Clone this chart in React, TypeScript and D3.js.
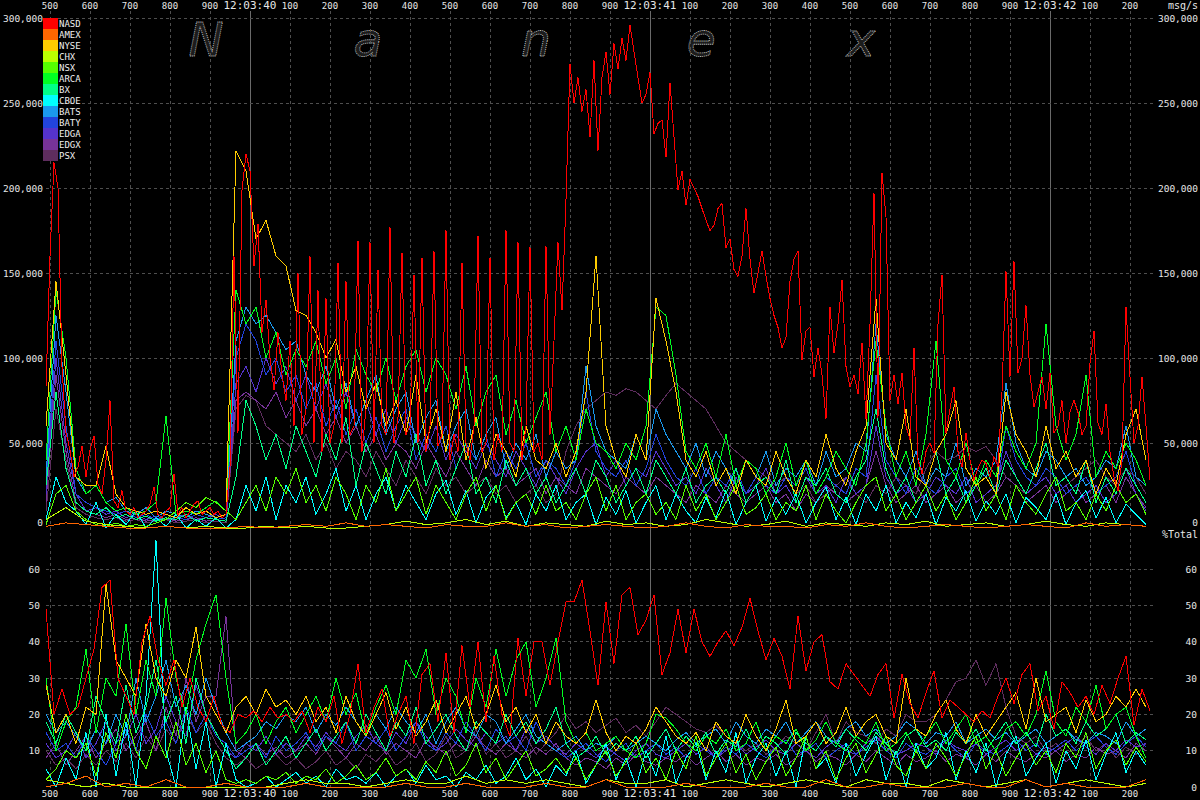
import React, { useEffect, useRef } from 'react';
import * as d3 from 'd3';

// exchanges, in legend order
const exchanges = ['NASD', 'AMEX', 'NYSE', 'CHX', 'NSX', 'ARCA', 'BX', 'CBOE', 'BATS', 'BATY', 'EDGA', 'EDGX', 'PSX'];
const exchangeColors = [
  '#ff0000', '#ff6600', '#ffcc00', '#bbff00', '#55ff00', '#00ff22', '#00ff88',
  '#00ffff', '#1a99ee', '#2244dd', '#5533cc', '#773399', '#5e2d5e',
];

// time is ms after 12:03:00
const startMs = 39490;
const endMs = 42265;
const tickMs = d3.range(39500, 42201, 100);
const msgTicks = [50, 100, 150, 200, 250, 300]; // thousands of msg/s
const msgLabelTicks = [0, 50, 100, 150, 200, 250, 300];
const pctTicks = [10, 20, 30, 40, 50, 60];

// sample spacing (ms) of each series
const nasdMsgStep = 10;
const nasdPctStep = 20;
const sparseStep = 50; // AMEX, CHX
const baseStep = 25;

// ---- msg/s, thousands ----
const nasdMsg = [83, 160, 215, 200, 95, 56, 46, 30, 36, 48, 30, 46, 54, 26, 20, 40, 75, 16, 12, 22, 10, 8, 12, 6, 8, 10, 14, 24, 8, 6, 10, 12, 32, 8, 12, 6, 10, 14, 16, 8, 10, 12, 8, 10, 6, 8, 36, 160, 56, 199, 220, 210, 154, 179, 115, 134, 100, 81, 115, 90, 75, 110, 60, 150, 55, 70, 160, 50, 140, 45, 135, 50, 60, 156, 50, 145, 55, 60, 169, 45, 70, 168, 50, 152, 60, 55, 177, 50, 65, 162, 55, 60, 149, 50, 159, 45, 60, 163, 48, 55, 175, 40, 55, 45, 156, 50, 40, 60, 172, 45, 50, 159, 40, 55, 45, 175, 50, 45, 168, 40, 60, 165, 45, 50, 40, 166, 55, 110, 168, 128, 193, 273, 250, 265, 245, 258, 230, 275, 222, 265, 280, 255, 285, 270, 288, 275, 296, 280, 265, 250, 255, 268, 232, 238, 240, 218, 262, 230, 199, 210, 190, 205, 200, 195, 188, 181, 175, 178, 188, 191, 165, 170, 152, 148, 160, 188, 158, 138, 150, 163, 148, 135, 125, 118, 106, 112, 145, 158, 163, 99, 116, 118, 89, 106, 90, 64, 130, 103, 120, 146, 95, 83, 90, 79, 109, 64, 120, 197, 65, 209, 183, 75, 90, 73, 91, 60, 52, 106, 40, 32, 45, 50, 44, 120, 149, 56, 70, 83, 45, 36, 56, 40, 28, 35, 40, 38, 30, 42, 36, 80, 151, 89, 157, 91, 100, 131, 90, 71, 80, 89, 70, 91, 56, 60, 75, 50, 68, 75, 68, 55, 60, 97, 116, 62, 55, 73, 45, 30, 22, 40, 130, 89, 50, 60, 89, 60, 28];
const amexMsg = [1, 3, 2, 1, 0, 0, 1, 0, 0, 0, 1, 0, 1, 2, 1, 3, 1, 2, 1, 0, 2, 1, 1, 3, 1, 2, 0, 1, 2, 1, 0, 1, 3, 1, 0, 2, 1, 1, 0, 2, 1, 3, 1, 0, 1, 2, 1, 0, 1, 2, 1, 0, 3, 1, 2, 1];
const nyseMsg = [60, 145, 90, 30, 25, 25, 48, 20, 12, 10, 8, 10, 8, 6, 12, 8, 10, 6, 8, 222, 210, 170, 181, 160, 154, 128, 125, 115, 100, 111, 80, 95, 70, 85, 60, 75, 55, 90, 50, 70, 45, 80, 40, 65, 35, 55, 45, 30, 60, 40, 35, 50, 30, 45, 80, 160, 60, 40, 30, 55, 40, 135, 110, 80, 40, 30, 45, 25, 35, 20, 40, 30, 25, 45, 30, 20, 40, 30, 55, 35, 25, 45, 60, 135, 50, 40, 70, 30, 25, 45, 55, 75, 35, 25, 30, 20, 80, 55, 45, 30, 60, 35, 45, 30, 40, 20, 35, 25, 55, 70, 40];
const chxMsg = [5, 12, 4, 2, 1, 0, 1, 0, 1, 0, 0, 1, 0, 1, 0, 0, 1, 2, 4, 2, 3, 5, 2, 4, 1, 3, 2, 1, 4, 2, 3, 1, 2, 5, 3, 1, 2, 4, 1, 3, 2, 1, 3, 2, 4, 1, 2, 3, 1, 2, 4, 2, 1, 3, 2, 1];
const nsxMsg = [2, 20, 25, 10, 5, 2, 1, 3, 1, 2, 1, 3, 5, 10, 15, 12, 18, 15, 10, 5, 15, 25, 10, 30, 20, 35, 15, 25, 10, 30, 20, 5, 25, 15, 35, 10, 20, 30, 8, 25, 15, 5, 20, 30, 10, 25, 5, 15, 20, 8, 25, 10, 15, 5, 20, 30, 10, 25, 5, 15, 20, 8, 15, 5, 25, 10, 20, 5, 15, 25, 8, 12, 20, 5, 15, 10, 25, 5, 20, 10, 3, 15, 25, 30, 10, 20, 5, 15, 25, 10, 20, 5, 15, 30, 10, 20, 5, 25, 15, 8, 20, 30, 10, 15, 5, 20, 10, 25, 15, 20, 8];
const arcaMsg = [40, 140, 100, 35, 20, 25, 15, 10, 12, 8, 10, 15, 66, 8, 10, 8, 12, 16, 10, 140, 120, 130, 100, 115, 90, 105, 95, 110, 85, 100, 70, 105, 90, 80, 100, 75, 95, 105, 80, 100, 90, 70, 95, 60, 80, 90, 55, 75, 50, 65, 80, 45, 60, 40, 70, 50, 45, 35, 50, 40, 60, 130, 125, 90, 45, 35, 50, 30, 55, 25, 40, 35, 20, 30, 50, 25, 40, 20, 30, 45, 35, 25, 50, 110, 60, 30, 45, 25, 55, 110, 40, 30, 50, 25, 40, 30, 60, 45, 35, 50, 120, 60, 40, 55, 90, 30, 45, 35, 50, 40, 25];
const bxMsg = [25, 80, 35, 15, 10, 8, 12, 6, 8, 5, 7, 4, 6, 5, 8, 4, 6, 5, 4, 30, 75, 60, 40, 55, 35, 60, 45, 30, 55, 40, 65, 25, 50, 35, 20, 45, 30, 55, 25, 40, 20, 35, 50, 20, 30, 15, 40, 25, 35, 20, 30, 15, 25, 35, 20, 40, 30, 15, 25, 35, 20, 40, 30, 20, 35, 15, 25, 30, 20, 35, 15, 25, 30, 20, 40, 15, 30, 25, 35, 20, 15, 30, 40, 70, 35, 20, 30, 15, 25, 45, 20, 30, 15, 25, 35, 20, 40, 30, 20, 35, 50, 25, 30, 20, 40, 15, 30, 20, 35, 25, 15];
const cboeMsg = [5, 30, 15, 10, 2, 15, 0, 8, 2, 10, 0, 6, 1, 8, 0, 5, 1, 6, 0, 5, 25, 10, 30, 5, 25, 15, 30, 8, 20, 35, 10, 25, 5, 20, 30, 10, 25, 15, 5, 20, 28, 8, 22, 3, 18, 25, 6, 15, 2, 20, 10, 25, 5, 15, 20, 2, 18, 8, 22, 3, 15, 25, 5, 20, 10, 3, 18, 6, 22, 2, 15, 25, 4, 18, 8, 20, 3, 15, 24, 5, 18, 2, 20, 10, 25, 3, 15, 6, 20, 2, 18, 10, 22, 4, 16, 8, 20, 3, 18, 12, 5, 20, 2, 15, 22, 6, 18, 3, 14, 8, 2];
const batsMsg = [30, 125, 80, 30, 20, 25, 15, 18, 10, 8, 12, 6, 10, 8, 6, 10, 8, 6, 8, 110, 130, 120, 125, 115, 105, 110, 90, 80, 95, 70, 85, 60, 75, 90, 55, 70, 80, 50, 65, 75, 45, 60, 70, 40, 55, 65, 35, 50, 40, 55, 30, 45, 35, 40, 95, 60, 45, 40, 35, 55, 40, 70, 55, 45, 35, 50, 30, 45, 35, 25, 40, 30, 45, 25, 35, 30, 40, 25, 45, 30, 35, 50, 45, 120, 55, 40, 30, 45, 25, 35, 30, 50, 25, 35, 30, 40, 85, 50, 35, 30, 45, 40, 30, 35, 25, 30, 40, 35, 60, 30, 25];
const batyMsg = [25, 110, 60, 20, 15, 12, 10, 8, 10, 6, 8, 5, 8, 6, 5, 8, 6, 5, 6, 100, 120, 110, 90, 100, 80, 90, 70, 85, 60, 75, 55, 70, 50, 65, 45, 60, 70, 40, 55, 45, 60, 35, 50, 40, 55, 30, 45, 35, 50, 30, 40, 35, 25, 40, 80, 45, 35, 30, 40, 25, 35, 55, 40, 30, 25, 35, 20, 30, 25, 35, 20, 30, 25, 20, 30, 25, 35, 20, 30, 25, 20, 35, 30, 90, 40, 30, 20, 35, 25, 20, 30, 35, 20, 25, 30, 20, 60, 40, 30, 25, 35, 30, 20, 25, 30, 20, 25, 30, 45, 25, 15];
const edgaMsg = [20, 100, 50, 20, 10, 12, 8, 10, 6, 8, 5, 7, 5, 6, 8, 5, 6, 8, 5, 85, 95, 80, 100, 85, 95, 75, 90, 70, 85, 65, 80, 60, 75, 55, 70, 50, 65, 55, 45, 60, 40, 55, 45, 35, 50, 40, 30, 45, 35, 25, 40, 30, 20, 35, 45, 50, 30, 40, 25, 35, 30, 45, 35, 25, 30, 20, 35, 25, 15, 30, 20, 25, 35, 20, 25, 15, 30, 20, 25, 15, 30, 20, 25, 60, 30, 20, 25, 15, 20, 30, 25, 20, 30, 15, 20, 25, 45, 30, 20, 25, 30, 20, 25, 15, 20, 25, 15, 20, 35, 20, 10];
const edgxMsg = [15, 90, 45, 15, 10, 8, 6, 8, 5, 6, 4, 5, 6, 4, 5, 6, 4, 5, 4, 75, 80, 75, 70, 80, 65, 75, 60, 70, 55, 65, 50, 60, 45, 55, 40, 50, 45, 35, 50, 40, 30, 45, 35, 25, 40, 30, 35, 25, 30, 35, 20, 30, 25, 20, 35, 30, 25, 20, 30, 25, 20, 30, 25, 20, 15, 25, 20, 15, 25, 20, 15, 20, 25, 15, 20, 10, 20, 15, 25, 20, 15, 20, 25, 45, 25, 15, 20, 25, 15, 20, 25, 15, 20, 25, 15, 20, 30, 25, 15, 20, 25, 15, 20, 25, 15, 20, 25, 15, 30, 20, 12];
const psxMsg = [10, 70, 40, 12, 8, 6, 5, 6, 4, 5, 3, 4, 5, 3, 4, 5, 3, 4, 3, 70, 78, 75, 60, 55, 50, 45, 55, 40, 50, 35, 45, 40, 30, 45, 35, 25, 40, 30, 20, 35, 25, 30, 20, 25, 30, 20, 25, 15, 20, 25, 15, 20, 45, 60, 70, 75, 80, 78, 82, 80, 75, 70, 78, 85, 80, 75, 70, 60, 50, 45, 40, 35, 30, 25, 30, 20, 25, 15, 20, 25, 30, 20, 15, 25, 20, 30, 25, 20, 35, 45, 40, 42, 48, 45, 48, 40, 30, 25, 20, 25, 30, 20, 25, 30, 35, 40, 30, 25, 35, 30, 20];

// ---- % of total ----
const nasdPct = [49, 20, 27, 20, 22, 30, 38, 55, 57, 30, 25, 20, 40, 47, 35, 28, 35, 22, 30, 22, 18, 25, 17, 15, 20, 19, 21, 18, 22, 19, 20, 18, 21, 15, 22, 18, 25, 12, 20, 34, 15, 22, 27, 14, 20, 25, 12, 31, 34, 18, 37, 15, 39, 22, 40, 18, 36, 20, 14, 41, 25, 40, 40, 28, 40, 51, 51, 57, 43, 28, 51, 34, 53, 55, 42, 46, 53, 31, 37, 49, 37, 49, 40, 36, 40, 43, 39, 44, 52, 43, 35, 41, 36, 27, 47, 32, 40, 42, 29, 27, 34, 31, 28, 25, 31, 34, 19, 31, 23, 19, 26, 32, 19, 24, 22, 20, 18, 21, 19, 25, 30, 23, 31, 34, 21, 25, 16, 29, 26, 22, 25, 20, 28, 23, 30, 36, 17, 27, 21];
const amexPct = [0, 1, 3, 0, 1, 0, 2, 0, 0, 1, 0, 0, 0, 1, 0, 0, 0, 0, 1, 0, 0, 1, 0, 0, 0, 1, 0, 0, 2, 0, 0, 0, 1, 0, 0, 0, 1, 0, 0, 2, 0, 0, 1, 0, 0, 0, 1, 0, 0, 2, 0, 1, 0, 0, 0, 2];
const nysePct = [28, 15, 20, 12, 22, 20, 56, 35, 30, 25, 45, 30, 25, 35, 30, 44, 25, 20, 15, 22, 25, 20, 27, 22, 24, 20, 25, 18, 22, 15, 25, 18, 14, 20, 26, 16, 22, 14, 18, 24, 15, 20, 25, 16, 20, 28, 18, 22, 15, 20, 12, 18, 14, 12, 15, 24, 15, 10, 14, 12, 16, 22, 18, 14, 12, 15, 10, 18, 14, 12, 20, 14, 10, 16, 24, 12, 14, 18, 12, 15, 22, 14, 18, 20, 14, 12, 30, 16, 14, 20, 24, 16, 12, 20, 14, 18, 22, 26, 16, 30, 18, 20, 22, 15, 24, 18, 20, 25, 22, 27, 22];
const chxPct = [2, 1, 0, 1, 0, 0, 0, 0, 0, 0, 0, 0, 1, 2, 1, 1, 0, 1, 2, 1, 1, 3, 1, 2, 1, 2, 1, 0, 2, 1, 1, 2, 0, 1, 2, 1, 0, 1, 2, 1, 0, 2, 1, 1, 0, 2, 1, 0, 1, 2, 0, 1, 2, 1, 0, 1];
const nsxPct = [2, 5, 10, 8, 12, 3, 15, 8, 20, 10, 5, 14, 8, 18, 6, 12, 4, 10, 2, 1, 2, 1, 3, 2, 4, 1, 3, 2, 5, 1, 3, 6, 2, 4, 8, 3, 5, 2, 7, 4, 10, 3, 6, 12, 4, 8, 2, 6, 10, 3, 5, 8, 4, 8, 2, 6, 10, 3, 7, 12, 4, 8, 2, 10, 5, 14, 3, 8, 12, 4, 9, 2, 7, 11, 3, 8, 14, 5, 10, 2, 8, 12, 4, 9, 14, 6, 3, 10, 5, 12, 8, 3, 9, 14, 5, 10, 3, 8, 12, 6, 10, 4, 12, 8, 15, 5, 10, 13, 6, 11, 7];
const arcaPct = [30, 10, 18, 22, 38, 15, 30, 25, 45, 20, 35, 25, 52, 30, 20, 35, 45, 53, 30, 12, 15, 20, 12, 18, 22, 15, 20, 25, 18, 30, 20, 26, 14, 22, 28, 20, 35, 30, 38, 20, 30, 25, 15, 30, 22, 38, 25, 35, 40, 22, 30, 41, 18, 12, 15, 10, 12, 14, 10, 8, 12, 20, 19, 16, 12, 10, 14, 12, 16, 10, 12, 18, 10, 14, 12, 16, 10, 13, 18, 12, 10, 14, 12, 18, 10, 12, 15, 10, 14, 18, 12, 16, 20, 12, 14, 10, 16, 18, 14, 20, 32, 18, 14, 22, 18, 28, 16, 20, 22, 14, 8];
const bxPct = [18, 12, 20, 15, 10, 25, 18, 12, 28, 15, 22, 35, 18, 25, 12, 30, 20, 15, 10, 5, 8, 12, 6, 10, 14, 8, 12, 16, 10, 14, 18, 12, 20, 15, 10, 18, 14, 22, 12, 16, 20, 14, 10, 18, 15, 12, 20, 14, 18, 12, 16, 22, 12, 8, 10, 14, 9, 12, 10, 14, 8, 12, 16, 10, 14, 11, 15, 9, 13, 11, 16, 10, 14, 12, 9, 15, 12, 10, 14, 11, 16, 13, 10, 15, 12, 9, 14, 16, 11, 13, 10, 15, 12, 16, 10, 14, 18, 12, 15, 11, 20, 14, 16, 12, 18, 14, 16, 20, 12, 15, 13];
const cboePct = [5, 0, 8, 2, 15, 0, 20, 3, 18, 0, 25, 68, 10, 0, 22, 5, 18, 0, 12, 2, 0, 1, 3, 0, 2, 4, 1, 3, 0, 5, 2, 3, 1, 4, 0, 3, 5, 1, 6, 2, 3, 0, 4, 2, 6, 1, 3, 8, 2, 5, 0, 6, 3, 10, 1, 6, 12, 2, 8, 0, 10, 3, 14, 1, 8, 12, 2, 10, 4, 15, 1, 8, 12, 3, 10, 0, 14, 5, 8, 1, 12, 3, 9, 14, 2, 10, 0, 12, 5, 8, 15, 2, 10, 4, 12, 0, 9, 14, 3, 8, 12, 1, 10, 5, 13, 2, 9, 15, 4, 10, 6];
const batsPct = [20, 15, 18, 14, 10, 16, 12, 20, 14, 30, 18, 25, 35, 22, 28, 20, 30, 22, 15, 10, 12, 14, 18, 16, 20, 18, 22, 15, 20, 17, 22, 18, 14, 20, 16, 22, 18, 15, 20, 12, 18, 22, 16, 14, 20, 18, 12, 16, 20, 14, 12, 10, 12, 14, 10, 12, 11, 14, 10, 12, 14, 12, 10, 13, 15, 12, 14, 16, 12, 18, 14, 12, 16, 14, 18, 12, 15, 18, 14, 12, 16, 18, 14, 16, 12, 14, 18, 16, 12, 15, 14, 18, 12, 14, 16, 13, 15, 12, 14, 16, 12, 14, 16, 13, 12, 15, 14, 12, 18, 14, 16];
const batyPct = [15, 10, 12, 8, 14, 10, 6, 12, 16, 10, 20, 14, 18, 12, 22, 15, 20, 14, 12, 8, 10, 12, 8, 14, 10, 12, 15, 10, 14, 12, 18, 10, 14, 12, 16, 10, 14, 18, 12, 10, 15, 12, 18, 14, 10, 16, 12, 14, 10, 18, 12, 10, 8, 10, 12, 9, 7, 10, 12, 8, 10, 12, 9, 11, 8, 12, 10, 8, 11, 9, 12, 10, 8, 11, 13, 9, 10, 12, 8, 10, 12, 9, 11, 13, 10, 8, 12, 10, 9, 11, 13, 10, 8, 12, 10, 9, 11, 13, 10, 12, 9, 11, 13, 10, 12, 14, 11, 9, 12, 14, 11];
const edgaPct = [12, 8, 10, 15, 8, 12, 18, 10, 14, 20, 12, 16, 25, 18, 14, 28, 20, 15, 10, 8, 12, 10, 14, 9, 12, 10, 14, 11, 15, 12, 10, 14, 17, 12, 10, 15, 12, 18, 14, 10, 12, 16, 13, 11, 15, 12, 14, 10, 16, 12, 14, 11, 9, 12, 10, 8, 11, 9, 7, 10, 12, 9, 8, 10, 12, 9, 11, 8, 10, 12, 9, 11, 13, 10, 9, 12, 10, 8, 11, 13, 10, 9, 12, 14, 11, 9, 10, 12, 11, 9, 13, 11, 10, 12, 9, 11, 13, 10, 12, 9, 11, 10, 12, 14, 11, 9, 12, 10, 13, 11, 12];
const edgxPct = [8, 12, 6, 10, 14, 8, 12, 16, 10, 14, 18, 10, 22, 14, 30, 18, 25, 25, 47, 10, 8, 12, 9, 11, 8, 10, 12, 9, 14, 11, 8, 12, 10, 14, 9, 12, 10, 8, 13, 11, 9, 12, 10, 14, 11, 9, 12, 10, 8, 11, 9, 12, 8, 6, 8, 7, 5, 8, 6, 9, 7, 6, 8, 7, 9, 6, 8, 10, 7, 9, 6, 8, 7, 9, 6, 8, 10, 7, 9, 8, 6, 9, 7, 10, 8, 6, 9, 7, 8, 10, 7, 9, 8, 6, 9, 7, 10, 8, 7, 9, 8, 10, 7, 9, 8, 11, 9, 10, 8, 12, 10];
const psxPct = [10, 6, 8, 5, 9, 6, 10, 7, 12, 8, 14, 10, 16, 12, 20, 15, 18, 12, 8, 6, 8, 5, 7, 9, 6, 8, 5, 7, 10, 6, 8, 5, 9, 7, 10, 6, 8, 12, 7, 9, 14, 8, 10, 16, 9, 12, 8, 10, 14, 9, 12, 15, 20, 16, 18, 15, 17, 19, 15, 17, 14, 18, 22, 20, 18, 16, 15, 17, 14, 12, 10, 12, 9, 11, 14, 12, 10, 15, 20, 12, 18, 15, 14, 12, 16, 14, 20, 18, 18, 20, 24, 29, 30, 35, 28, 34, 22, 14, 12, 14, 10, 12, 9, 11, 14, 10, 12, 8, 11, 9, 12];

const msgSeries = [
  { values: nasdMsg, step: nasdMsgStep },
  { values: amexMsg, step: sparseStep },
  { values: nyseMsg, step: baseStep },
  { values: chxMsg, step: sparseStep },
  { values: nsxMsg, step: baseStep },
  { values: arcaMsg, step: baseStep },
  { values: bxMsg, step: baseStep },
  { values: cboeMsg, step: baseStep },
  { values: batsMsg, step: baseStep },
  { values: batyMsg, step: baseStep },
  { values: edgaMsg, step: baseStep },
  { values: edgxMsg, step: baseStep },
  { values: psxMsg, step: baseStep },
];
const pctSeries = [
  { values: nasdPct, step: nasdPctStep },
  { values: amexPct, step: sparseStep },
  { values: nysePct, step: baseStep },
  { values: chxPct, step: sparseStep },
  { values: nsxPct, step: baseStep },
  { values: arcaPct, step: baseStep },
  { values: bxPct, step: baseStep },
  { values: cboePct, step: baseStep },
  { values: batsPct, step: baseStep },
  { values: batyPct, step: baseStep },
  { values: edgaPct, step: baseStep },
  { values: edgxPct, step: baseStep },
  { values: psxPct, step: baseStep },
];

const watermark = [
  { ch: 'N', ms: 39890 },
  { ch: 'a', ms: 40295 },
  { ch: 'n', ms: 40715 },
  { ch: 'e', ms: 41128 },
  { ch: 'x', ms: 41528 },
];

const toPoints = (values: number[], step: number): [number, number][] =>
  values.map((v, i) => [startMs + i * step, v]);

const tickLabel = (ms: number) =>
  ms % 1000 === 0 ? `12:03:${ms / 1000}` : String(ms % 1000);

const mono = '"DejaVu Sans Mono", "Liberation Mono", monospace';

const App: React.FC = () => {
  const svgRef = useRef<SVGSVGElement>(null);

  useEffect(() => {
    document.body.style.margin = '0';
    document.body.style.background = '#000';
    if (!svgRef.current) return;

    const svg = d3.select(svgRef.current);
    svg.selectAll('*').remove();

    const left = 46;
    const right = 1156;
    const x = d3.scaleLinear().domain([startMs, endMs]).range([left, right]);
    const yMsg = d3.scaleLinear().domain([0, 300]).range([528, 18]);
    const yPct = d3.scaleLinear().domain([0, 70]).range([787, 533]);

    svg.append('rect').attr('width', 1200).attr('height', 800).attr('fill', '#000');

    const defs = svg.append('defs');
    defs.append('clipPath').attr('id', 'clip-msg')
      .append('rect').attr('x', left).attr('y', 10).attr('width', right - left).attr('height', 519);
    defs.append('clipPath').attr('id', 'clip-pct')
      .append('rect').attr('x', left).attr('y', 531).attr('width', right - left).attr('height', 257);

    // watermark
    svg.append('g')
      .selectAll('text')
      .data(watermark)
      .enter()
      .append('text')
      .attr('x', (d) => x(d.ms))
      .attr('y', 56)
      .attr('text-anchor', 'middle')
      .attr('font-family', '"DejaVu Sans", sans-serif')
      .attr('font-style', 'italic')
      .attr('font-size', '47px')
      .attr('fill', '#1c1c1c')
      .attr('stroke', '#d8d8d8')
      .attr('stroke-width', 0.8)
      .attr('stroke-dasharray', '1,1')
      .text((d) => d.ch);

    // grid
    const grid = svg.append('g');
    grid.selectAll('.vgrid')
      .data(tickMs)
      .enter()
      .append('line')
      .attr('x1', (d) => x(d))
      .attr('x2', (d) => x(d))
      .attr('y1', 11)
      .attr('y2', 788)
      .attr('stroke', (d) => (d % 1000 === 0 ? '#6a6a6a' : '#4e4e4e'))
      .attr('stroke-dasharray', (d) => (d % 1000 === 0 ? null : '3,3'))
      .attr('shape-rendering', 'crispEdges');

    grid.selectAll('.hmsg')
      .data(msgTicks)
      .enter()
      .append('line')
      .attr('x1', left)
      .attr('x2', right)
      .attr('y1', (d) => yMsg(d))
      .attr('y2', (d) => yMsg(d))
      .attr('stroke', '#4e4e4e')
      .attr('stroke-dasharray', '3,3')
      .attr('shape-rendering', 'crispEdges');

    grid.selectAll('.hpct')
      .data(pctTicks)
      .enter()
      .append('line')
      .attr('x1', left)
      .attr('x2', right)
      .attr('y1', (d) => yPct(d))
      .attr('y2', (d) => yPct(d))
      .attr('stroke', '#4e4e4e')
      .attr('stroke-dasharray', '3,3')
      .attr('shape-rendering', 'crispEdges');

    // series, PSX first so NASD ends on top
    const lineMsg = d3.line<[number, number]>()
      .x((d) => x(d[0]))
      .y((d) => yMsg(d[1]));
    const linePct = d3.line<[number, number]>()
      .x((d) => x(d[0]))
      .y((d) => yPct(d[1]));

    const order = d3.range(exchanges.length).reverse();

    const gMsg = svg.append('g').attr('clip-path', 'url(#clip-msg)');
    order.forEach((k) => {
      gMsg.append('path')
        .attr('d', lineMsg(toPoints(msgSeries[k].values, msgSeries[k].step)))
        .attr('fill', 'none')
        .attr('stroke', exchangeColors[k])
        .attr('stroke-width', 1)
        .attr('shape-rendering', 'crispEdges');
    });

    const gPct = svg.append('g').attr('clip-path', 'url(#clip-pct)');
    order.forEach((k) => {
      gPct.append('path')
        .attr('d', linePct(toPoints(pctSeries[k].values, pctSeries[k].step)))
        .attr('fill', 'none')
        .attr('stroke', exchangeColors[k])
        .attr('stroke-width', 1)
        .attr('shape-rendering', 'crispEdges');
    });

    // time labels, top and bottom
    const labels = svg.append('g').attr('font-family', mono).attr('fill', '#e6e6e6');
    [9, 797].forEach((yy) => {
      labels.selectAll(null)
        .data(tickMs)
        .enter()
        .append('text')
        .attr('x', (d) => x(d))
        .attr('y', yy)
        .attr('text-anchor', 'middle')
        .attr('font-size', (d) => (d % 1000 === 0 ? '11px' : '9px'))
        .text((d) => tickLabel(d));
    });

    const fmt = d3.format(',');
    [43, 1198].forEach((lx) => {
      labels.selectAll(null)
        .data(msgLabelTicks)
        .enter()
        .append('text')
        .attr('x', lx)
        .attr('y', (d) => (d === 0 ? 526 : yMsg(d) + 3.5))
        .attr('text-anchor', 'end')
        .attr('font-size', '9.5px')
        .text((d) => fmt(d * 1000));
    });

    labels.selectAll(null)
      .data(pctTicks)
      .enter()
      .append('text')
      .attr('x', 40)
      .attr('y', (d) => yPct(d) + 3.5)
      .attr('text-anchor', 'end')
      .attr('font-size', '9.5px')
      .text((d) => String(d));
    labels.selectAll(null)
      .data([0, ...pctTicks])
      .enter()
      .append('text')
      .attr('x', 1197)
      .attr('y', (d) => yPct(d) + 3.5)
      .attr('text-anchor', 'end')
      .attr('font-size', '9.5px')
      .text((d) => String(d));

    labels.append('text')
      .attr('x', 1198).attr('y', 9).attr('text-anchor', 'end')
      .attr('font-size', '10px').text('msg/s');
    labels.append('text')
      .attr('x', 1198).attr('y', 538).attr('text-anchor', 'end')
      .attr('font-size', '10px').text('%Total');

    // legend
    const legend = svg.append('g');
    exchanges.forEach((name, k) => {
      legend.append('rect')
        .attr('x', 43)
        .attr('y', 18 + k * 11)
        .attr('width', 15)
        .attr('height', 11)
        .attr('fill', exchangeColors[k]);
      legend.append('text')
        .attr('x', 59)
        .attr('y', 18 + k * 11 + 8.5)
        .attr('font-family', mono)
        .attr('font-size', '9px')
        .attr('fill', '#f0f0f0')
        .text(name);
    });
  }, []);

  return <svg ref={svgRef} width={1200} height={800} style={{ display: 'block' }} />;
};

export default App;
